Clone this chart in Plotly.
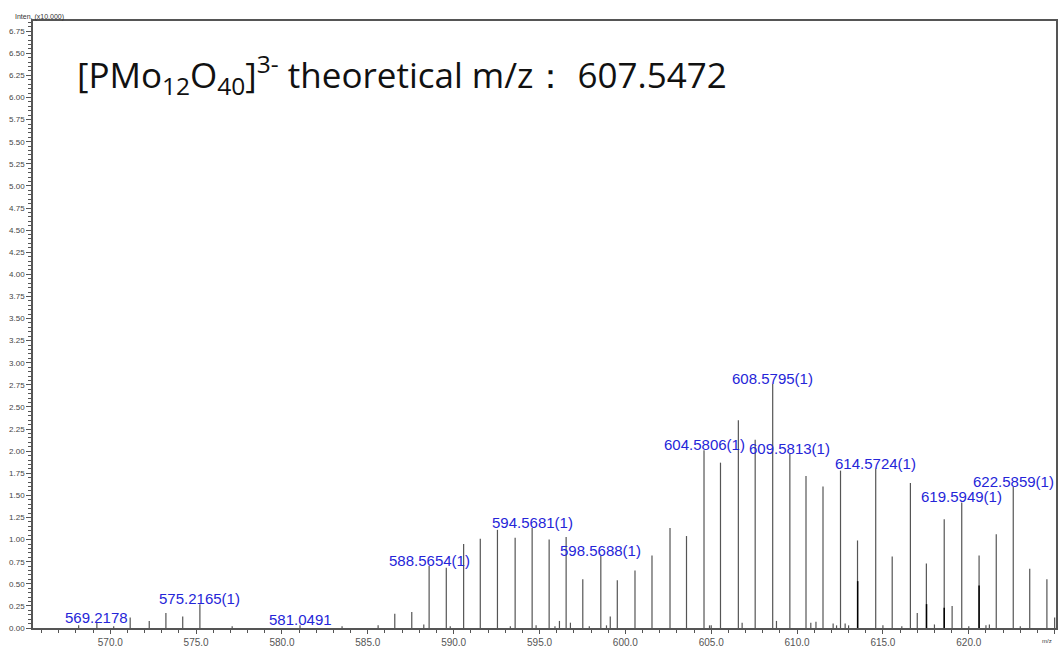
import plotly.graph_objects as go

# Peak list: m/z and intensity (x10,000)
peak_mz = [568.16, 569.22, 570.20, 571.16, 572.27, 573.24, 574.22, 575.22, 577.10,
           581.05, 583.50, 585.60, 586.57, 587.56, 588.26, 588.57, 589.57, 589.80,
           590.58, 591.55, 592.55, 593.30, 593.58, 594.57, 594.80, 595.56, 595.90,
           596.16, 596.55, 596.80, 597.52, 597.90, 598.57, 598.90, 599.12, 599.53,
           600.56, 601.55, 602.60, 603.56, 604.58, 604.90, 605.00, 605.54, 606.58,
           606.80, 607.56, 608.58, 608.80, 609.58, 610.52, 610.80, 611.10, 611.51,
           612.10, 612.30, 612.53, 612.80, 613.00, 613.52, 614.58, 615.00, 615.54,
           616.10, 616.60, 617.00, 617.53, 618.00, 618.57, 619.03, 619.59, 620.00,
           620.60, 621.00, 621.20, 621.60, 622.59, 623.00, 623.55, 624.55, 625.00]
peak_int = [0.03, 0.06, 0.02, 0.12, 0.08, 0.17, 0.13, 0.27, 0.02,
            0.03, 0.02, 0.03, 0.16, 0.18, 0.04, 0.70, 0.68, 0.02,
            0.95, 1.01, 1.11, 0.02, 1.02, 1.13, 0.03, 1.00, 0.02,
            0.08, 1.03, 0.06, 0.55, 0.02, 0.82, 0.03, 0.13, 0.54,
            0.65, 0.82, 1.13, 1.04, 2.01, 0.03, 0.03, 1.87, 2.35,
            0.06, 2.13, 2.76, 0.08, 1.97, 1.72, 0.06, 0.07, 1.60,
            0.05, 0.03, 1.78, 0.05, 0.03, 0.99, 1.80, 0.03, 0.81,
            0.02, 1.64, 0.17, 0.73, 0.04, 1.23, 0.25, 1.42, 0.02,
            0.82, 0.03, 0.04, 1.06, 1.60, 0.02, 0.67, 0.55, 0.12]

# Overlapping (darker) inner peaks
inner_mz = [613.53, 617.54, 618.57, 620.60]
inner_int = [0.53, 0.27, 0.23, 0.48]

# Labelled peaks
label_mz = [569.22, 575.22, 581.05, 588.57, 594.57, 598.57, 604.58, 608.58,
            609.58, 614.58, 619.59, 622.59]
label_int = [0.06, 0.27, 0.03, 0.70, 1.13, 0.82, 2.01, 2.76, 1.97, 1.80, 1.42, 1.60]
label_text = ["569.2178", "575.2165(1)", "581.0491", "588.5654(1)", "594.5681(1)",
              "598.5688(1)", "604.5806(1)", "608.5795(1)", "609.5813(1)",
              "614.5724(1)", "619.5949(1)", "622.5859(1)"]

title_text = ("[PMo<sub>12</sub>O<sub>40</sub>]<sup>3-</sup>&nbsp;theoretical m/z："
              "&nbsp;607.5472")


def sticks(xs, ys):
    sx, sy = [], []
    for x, y in zip(xs, ys):
        sx += [x, x, None]
        sy += [0, y, None]
    return sx, sy


fig = go.Figure()
sx, sy = sticks(peak_mz, peak_int)
fig.add_trace(go.Scatter(x=sx, y=sy, mode="lines",
                         line=dict(color="#555555", width=1.2),
                         hoverinfo="skip", showlegend=False))
ix, iy = sticks(inner_mz, inner_int)
fig.add_trace(go.Scatter(x=ix, y=iy, mode="lines",
                         line=dict(color="#000000", width=1.5),
                         hoverinfo="skip", showlegend=False))

annotations = []
for x, y, t in zip(label_mz, label_int, label_text):
    annotations.append(dict(x=x, y=y, xref="x", yref="y", text=t, showarrow=False,
                            xanchor="center", yanchor="bottom", yshift=-5,
                            font=dict(family="Liberation Sans, Arial", size=15,
                                      color="#2525d8")))

annotations.append(dict(x=0.041, y=0.912, xref="paper", yref="paper", text=title_text,
                        showarrow=False, xanchor="left", yanchor="middle",
                        font=dict(family="Open Sans, Lato", size=35, color="#111111")))
annotations.append(dict(x=-0.0195, y=1, xref="paper", yref="paper",
                        text="Inten. (x10,000)", showarrow=False,
                        xanchor="left", yanchor="bottom", yshift=-2,
                        font=dict(family="Liberation Sans, Arial", size=7, color="#333333")))
annotations.append(dict(x=0.998, y=0, xref="paper", yref="paper", text="m/z",
                        showarrow=False, xanchor="right", yanchor="top", yshift=-8,
                        font=dict(family="Liberation Sans, Arial", size=6, color="#333333")))

fig.update_layout(
    width=1060, height=650,
    margin=dict(l=33, r=2, t=21, b=18),
    paper_bgcolor="white", plot_bgcolor="white",
    annotations=annotations,
    showlegend=False,
)

fig.update_xaxes(
    range=[565.5, 625.08], showgrid=False, zeroline=False,
    showline=True, linecolor="#555555", linewidth=1.5, mirror=True,
    tickmode="linear", tick0=570, dtick=5, tickformat=".1f",
    ticks="outside", ticklen=4, tickcolor="#555555", tickwidth=1,
    minor=dict(tickmode="linear", tick0=570, dtick=1, ticks="outside",
               ticklen=3, tickcolor="#555555", showgrid=False),
    tickfont=dict(family="Liberation Sans, Arial", size=10, color="#555555"),
)
fig.update_yaxes(
    range=[0, 6.865], showgrid=False, zeroline=False,
    showline=True, linecolor="#555555", linewidth=1.5, mirror=True,
    tickmode="linear", tick0=0, dtick=0.25, tickformat=".2f",
    ticks="outside", ticklen=5, tickcolor="#555555", tickwidth=1,
    minor=dict(tickmode="linear", tick0=0, dtick=0.05, ticks="outside",
               ticklen=3, tickcolor="#555555", showgrid=False),
    tickfont=dict(family="Liberation Sans, Arial", size=8, color="#444444"),
)

fig.write_html("out.html")
